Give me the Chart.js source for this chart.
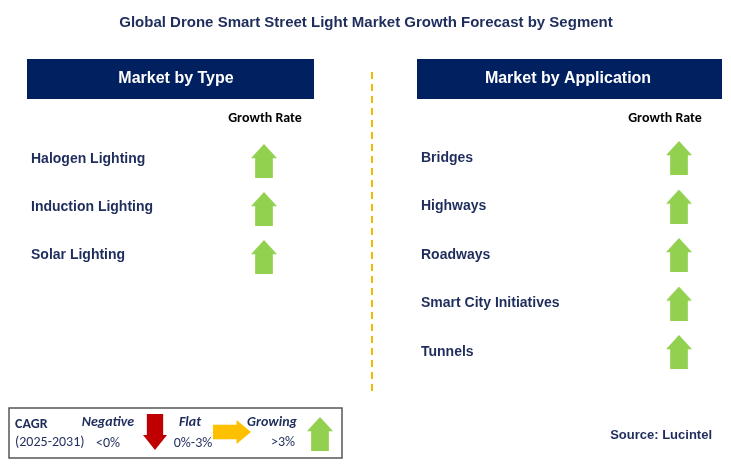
<!DOCTYPE html>
<html>
<head>
<meta charset="utf-8">
<script src="https://cdn.jsdelivr.net/npm/chart.js@4/dist/chart.umd.min.js"></script>
<style>
  html, body { margin: 0; padding: 0; background: #fff; }
  #wrap { width: 731px; height: 470px; }
</style>
</head>
<body>
<div id="wrap"><canvas id="chart"></canvas></div>
<script>
const chartTitle = 'Global Drone Smart Street Light Market Growth Forecast by Segment';
const typeSegments = ['Halogen Lighting', 'Induction Lighting', 'Solar Lighting'];
const typeGrowth = ['up', 'up', 'up'];
const appSegments = ['Bridges', 'Highways', 'Roadways', 'Smart City Initiatives', 'Tunnels'];
const appGrowth = ['up', 'up', 'up', 'up', 'up'];
const sourceText = 'Source: Lucintel';

const NAVY = '#002060';
const TEXT = '#1f2d5c';
const GREEN = '#92d050';

// arrow icons used as point styles
function makeArrow(dir, color, w, h) {
    const c = document.createElement('canvas');
    c.width = w; c.height = h;
    const g = c.getContext('2d');
    g.fillStyle = color;
    g.beginPath();
    if (dir === 'up') {
        const hh = h * 0.42, sw = w * 0.34;
        g.moveTo(w / 2, 0); g.lineTo(w, hh); g.lineTo(w / 2 + sw, hh); g.lineTo(w / 2 + sw, h);
        g.lineTo(w / 2 - sw, h); g.lineTo(w / 2 - sw, hh); g.lineTo(0, hh);
    } else if (dir === 'down') {
        const hh = h * 0.42, sw = w * 0.34;
        g.moveTo(w / 2, h); g.lineTo(w, h - hh); g.lineTo(w / 2 + sw, h - hh); g.lineTo(w / 2 + sw, 0);
        g.lineTo(w / 2 - sw, 0); g.lineTo(w / 2 - sw, h - hh); g.lineTo(0, h - hh);
    } else {
        const hw = w * 0.38, sh = h * 0.3;
        g.moveTo(w, h / 2); g.lineTo(w - hw, 0); g.lineTo(w - hw, h / 2 - sh); g.lineTo(0, h / 2 - sh);
        g.lineTo(0, h / 2 + sh); g.lineTo(w - hw, h / 2 + sh); g.lineTo(w - hw, h);
    }
    g.closePath(); g.fill();
    return c;
}
const arrows = { up: makeArrow('up', GREEN, 26, 34), down: makeArrow('down', '#c00000', 24, 36), flat: makeArrow('flat', '#ffc000', 38, 24) };

const typeRowY = i => 161 + i * 48;
const appRowY = i => 158 + i * 48.5;

const typePoints = typeSegments.map((s, i) => ({ x: 264, y: typeRowY(i), label: s, dir: typeGrowth[i] }));
const appPoints = appSegments.map((s, i) => ({ x: 679, y: appRowY(i), label: s, dir: appGrowth[i] }));
const legendPoints = [
    { x: 155, y: 432, dir: 'down' },
    { x: 232, y: 432, dir: 'flat' },
    { x: 320, y: 434, dir: 'up' }
];

const decor = {
    id: 'decor',
    beforeDatasetsDraw(chart) {
        const { ctx, scales: { x, y } } = chart;
        const X = v => x.getPixelForValue(v), Y = v => y.getPixelForValue(v);
        ctx.save();
        ctx.textBaseline = 'middle';
        // title
        ctx.fillStyle = TEXT; ctx.textAlign = 'center';
        ctx.font = 'bold 15px Arial, "Liberation Sans"';
        ctx.fillText(chartTitle, X(366), Y(23));
        // headers
        ctx.fillStyle = NAVY;
        ctx.fillRect(X(27), Y(59), X(314) - X(27), Y(99) - Y(59));
        ctx.fillRect(X(417), Y(59), X(722) - X(417), Y(99) - Y(59));
        ctx.fillStyle = '#fff'; ctx.font = 'bold 16px Arial, "Liberation Sans"';
        ctx.fillText('Market by Type', X(176), Y(79));
        ctx.fillText('Market by Application', X(568), Y(79));
        ctx.fillStyle = '#000'; ctx.font = 'bold 14px Calibri, Carlito, "Open Sans", sans-serif';
        ctx.fillText('Growth Rate', X(265), Y(118));
        ctx.fillText('Growth Rate', X(665), Y(118));
        // divider
        ctx.strokeStyle = '#f5b800'; ctx.lineWidth = 2; ctx.setLineDash([7, 5]);
        ctx.beginPath(); ctx.moveTo(X(372), Y(72)); ctx.lineTo(X(372), Y(395)); ctx.stroke();
        ctx.setLineDash([]);
        // segment labels
        ctx.fillStyle = TEXT; ctx.textAlign = 'left'; ctx.font = 'bold 14px Arial, "Liberation Sans"';
        typePoints.forEach(p => ctx.fillText(p.label, X(31), Y(p.y - 2)));
        appPoints.forEach(p => ctx.fillText(p.label, X(421), Y(p.y)));
        // legend box
        ctx.strokeStyle = '#555'; ctx.lineWidth = 1.5;
        ctx.strokeRect(X(9), Y(408), X(342) - X(9), Y(458) - Y(408));
        ctx.fillStyle = TEXT; ctx.font = 'bold 14px Calibri, Carlito, "Open Sans", sans-serif';
        ctx.fillText('CAGR', X(15), Y(424));
        ctx.font = '14px Calibri, Carlito, "Open Sans", sans-serif';
        ctx.fillText('(2025-2031)', X(15), Y(442));
        ctx.textAlign = 'center';
        ctx.font = 'italic bold 14px Calibri, Carlito, "Open Sans", sans-serif';
        ctx.fillText('Negative', X(108), Y(422));
        ctx.fillText('Flat', X(190), Y(422));
        ctx.fillText('Growing', X(272), Y(422));
        ctx.font = '14px Calibri, Carlito, "Open Sans", sans-serif';
        ctx.fillText('<0%', X(108), Y(443));
        ctx.fillText('0%-3%', X(193), Y(443));
        ctx.fillText('>3%', X(283), Y(442));
        ctx.fillStyle = TEXT; ctx.textAlign = 'right'; ctx.font = 'bold 13px Arial, "Liberation Sans"';
        ctx.fillText(sourceText, X(712), Y(435));
        ctx.restore();
    }
};

new Chart(document.getElementById('chart'), {
    type: 'scatter',
    data: {
        datasets: [typePoints, appPoints, legendPoints].map(pts => ({
            data: pts,
            pointStyle: pts.map(p => arrows[p.dir]),
            pointRadius: 14,
            pointHoverRadius: 14
        }))
    },
    options: {
        responsive: true,
        maintainAspectRatio: false,
        animation: false,
        layout: { padding: 0, autoPadding: false },
        plugins: { legend: { display: false }, tooltip: { enabled: false } },
        scales: {
            x: { type: 'linear', min: 0, max: 731, display: false },
            y: { type: 'linear', min: 0, max: 470, reverse: true, display: false }
        }
    },
    plugins: [decor]
});
</script>
</body>
</html>
